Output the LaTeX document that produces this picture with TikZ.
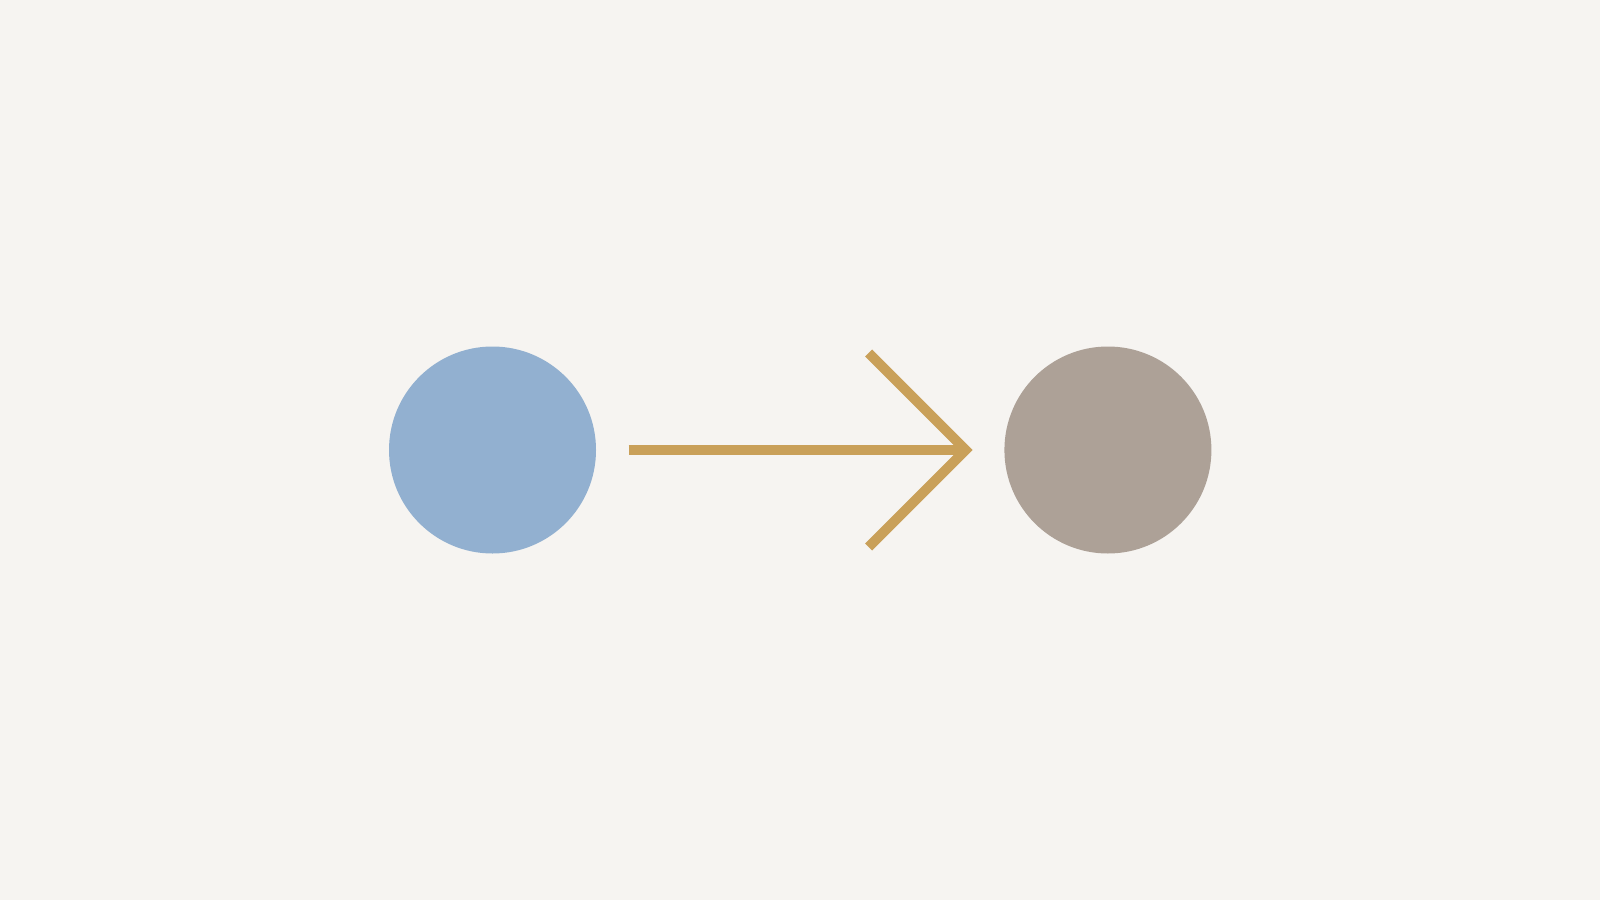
\documentclass[tikz,border=0pt]{standalone}
\usepackage{tikz}
\usetikzlibrary{arrows.meta,positioning}

\definecolor{paper}{HTML}{F6F4F1}
\definecolor{skyblue}{HTML}{92B0D0}
\definecolor{taupe}{HTML}{ADA197}
\definecolor{ochre}{HTML}{C9A059}

\begin{document}
\begin{tikzpicture}[->,
            >={Straight Barb[length=9.7mm,width=19.4mm,line width=1mm]},
            node distance=4.07cm,
            dot/.style={circle,minimum size=2.07cm,inner sep=0pt,draw=none},
            flow/.style={ochre,line width=1mm,shorten <=3.2mm,shorten >=3.1mm}]

        \fill[paper] (0,0) rectangle (16,9);
        \useasboundingbox (0,0) rectangle (16,9);

        \node[dot,fill=skyblue] (from) at (4.925,4.5) {};
        \node[dot,fill=taupe]   (to)   [right=of from] {};

        \path (from) edge [flow] (to);

    \end{tikzpicture}
\end{document}
